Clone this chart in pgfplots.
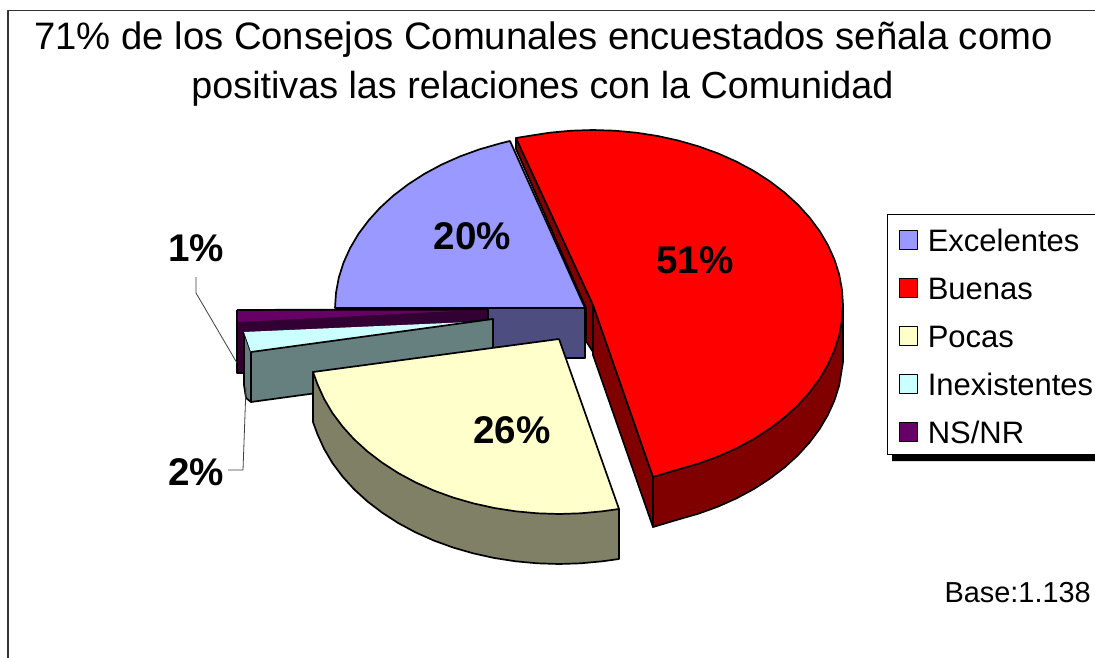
\documentclass[border=0pt]{standalone}
\usepackage{fontspec}
\setmainfont{Liberation Sans}
\usepackage{pgfplots}
\pgfplotsset{compat=1.18}
\definecolor{cBlue}{RGB}{153,153,255}
\definecolor{cBlueS}{RGB}{77,77,128}
\definecolor{cRed}{RGB}{255,0,0}
\definecolor{cRedS}{RGB}{128,0,0}
\definecolor{cYel}{RGB}{255,255,204}
\definecolor{cYelS}{RGB}{128,128,102}
\definecolor{cCya}{RGB}{204,255,255}
\definecolor{cCyaS}{RGB}{102,128,128}
\definecolor{cPur}{RGB}{102,0,102}
\definecolor{cPurS}{RGB}{51,0,51}
\newcommand{\pct}{\fontsize{38.6}{40}\selectfont\bfseries}
\begin{document}
\begin{tikzpicture}
% legend box runs off the right edge, as in the original
\path[use as bounding box, clip] (0,0) rectangle (1095pt,658pt);
\begin{axis}[
    width=1095pt, height=658pt, scale only axis,
    xmin=0, xmax=1095, ymin=0, ymax=658,
    y dir=reverse, hide axis, clip=true,
    every axis plot/.append style={line width=1.7pt, line join=round, mark=none},
    legend cell align=left,
    legend image code/.code={\draw[line width=1.3pt,#1] (0pt,-11pt) rectangle (18pt,8pt);},
    legend style={at={(axis cs:887,214)}, anchor=north west,
        draw=black, line width=1pt, fill=white,
        font=\fontsize{31}{32}\selectfont,
        inner xsep=11pt, inner ysep=8pt, row sep=16pt, column sep=9pt,
        nodes={inner sep=1pt, text height=28pt, text depth=2pt}},
]
% legend swatches
\addlegendimage{fill=cBlue, draw=black}\addlegendentry{Excelentes}
\addlegendimage{fill=cRed, draw=black}\addlegendentry{Buenas}
\addlegendimage{fill=cYel, draw=black}\addlegendentry{Pocas}
\addlegendimage{fill=cCya, draw=black}\addlegendentry{Inexistentes}
\addlegendimage{fill=cPur, draw=black}\addlegendentry{NS/NR}

% page and frame
\addplot[fill=white, draw=none] coordinates {(0,0) (1095,0) (1095,658) (0,658) (0,0)};
\addplot[draw=black!80, line width=1.3pt] coordinates {(8,658) (8,10.5) (1095,10.5)};
% legend shadow
\addplot[fill=black, draw=none] coordinates {(892,452) (1095,452) (1095,461) (892,461) (892,452)};

% NS/NR
\addplot[fill=cPurS, draw=black] coordinates {(237,310) (488,309) (488,320) (250,345) (248,373) (237,373) (237,310)};
\addplot[fill=cPur, draw=none] coordinates {(238,311) (455,311) (238,322) (238,311)};
% Excelentes, side
\addplot[fill=cBlueS, draw=black] coordinates {(488,308) (585,308) (585,358) (488,358) (488,308)};
% Inexistentes
\addplot[fill=cCyaS, draw=black] coordinates {(244,332) (251,352) (251,402) (246,398) (244,385) (244,332)};
\addplot[fill=cCya, draw=none] coordinates {(244,332) (470,322) (251,352) (244,332)};
\addplot[fill=cCyaS, draw=black] coordinates {(251,352) (493,319) (493,369) (251,402) (251,352)};

% Pocas
\addplot[fill=cYelS, draw=black] coordinates {(619,509) (313,372)
    (313,422) (317.5,434.3) (324.1,448.9) (332.4,463) (342.5,476.5) (354.2,489.4) (367.5,501.5) (382.2,512.7) (398.3,523.1) (415.6,532.4) (434,540.6) (453.3,547.6) (473.5,553.4) (494.3,558) (515.6,561.3) (537.2,563.3) (559,564) (580.8,563.3) (602.4,561.3) (619,559) (619,509)};
\addplot[fill=cYel, draw=black] coordinates {(559,339) (619,509) (602.4,511.3) (580.8,513.3) (559,514) (537.2,513.3) (515.6,511.3) (494.3,508) (473.5,503.4) (453.3,497.6) (434,490.6) (415.6,482.4) (398.3,473.1) (382.2,462.7) (367.5,451.5) (354.2,439.4) (342.5,426.5) (332.4,413) (324.1,398.9) (317.5,384.3) (313,372) (559,339)};

% Excelentes, top
\addplot[fill=cBlue, draw=black] coordinates {(585,308) (335,308) (336,292.7) (338.8,277.6) (343.5,262.7) (350.1,248.1) (358.4,234) (368.5,220.5) (380.2,207.6) (393.5,195.5) (408.2,184.3) (424.3,173.9) (441.6,164.6) (460,156.4) (479.3,149.4) (499.5,143.6) (510,141) (585,308)};

% Buenas
\addplot[fill=cRedS, draw=black] coordinates {(516,138) (516,149) (586,308) (586,341) (593,352) (593,305) (516,138)};
\addplot[fill=cRedS, draw=black] coordinates {(593,305) (653,477) (653,527) (593,355) (593,305)};
\addplot[fill=cRedS, draw=black] coordinates {(843,305) (653,477)
    (653,527) (678.5,519.4) (698.7,513.6) (718,506.6) (736.4,498.4) (753.7,489.1) (769.8,478.7) (784.5,467.5) (797.8,455.4) (809.5,442.5) (819.6,429) (827.9,414.9) (834.5,400.3) (839.2,385.4) (843,362) (843,305)};
\addplot[fill=cRed, draw=black] coordinates {(593,305) (516,138) (528.3,136) (549.6,132.7) (571.2,130.7) (593,130) (614.8,130.7) (636.4,132.7) (657.7,136) (678.5,140.6) (698.7,146.4) (718,153.4) (736.4,161.6) (753.7,170.9) (769.8,181.3) (784.5,192.5) (797.8,204.6) (809.5,217.5) (819.6,231) (827.9,245.1) (834.5,259.7) (839.2,274.6) (842,289.7) (843,305) (842,320.3) (839.2,335.4) (834.5,350.3) (827.9,364.9) (819.6,379) (809.5,392.5) (797.8,405.4) (784.5,417.5) (769.8,428.7) (753.7,439.1) (736.4,448.4) (718,456.6) (698.7,463.6) (678.5,469.4) (653,477) (593,305)};

% leader lines
\addplot[draw=black!75, line width=0.8pt] coordinates {(196,277) (196,293) (237,363)};
\addplot[draw=black!75, line width=0.8pt] coordinates {(228,470) (243,470) (246,387)};

% title
\node[anchor=base, font=\fontsize{38.25}{40}\selectfont, inner sep=0pt] at (axis cs:543.5,50) {71\% de los Consejos Comunales encuestados señala como};
\node[anchor=base, font=\fontsize{37.7}{40}\selectfont, inner sep=0pt] at (axis cs:542.5,99) {positivas las relaciones con la Comunidad};
% slice labels
\node[font=\pct, inner sep=0pt] at (axis cs:472.5,236) {20\%};
\node[font=\pct, inner sep=0pt] at (axis cs:695,260) {51\%};
\node[font=\pct, inner sep=0pt] at (axis cs:512,430) {26\%};
\node[font=\pct, inner sep=0pt] at (axis cs:196,248) {1\%};
\node[font=\pct, inner sep=0pt] at (axis cs:196,472) {2\%};
% base
\node[anchor=base east, font=\fontsize{28.9}{30}\selectfont, inner sep=0pt] at (axis cs:1091,602) {Base:1.138};
\end{axis}
\end{tikzpicture}
\end{document}
